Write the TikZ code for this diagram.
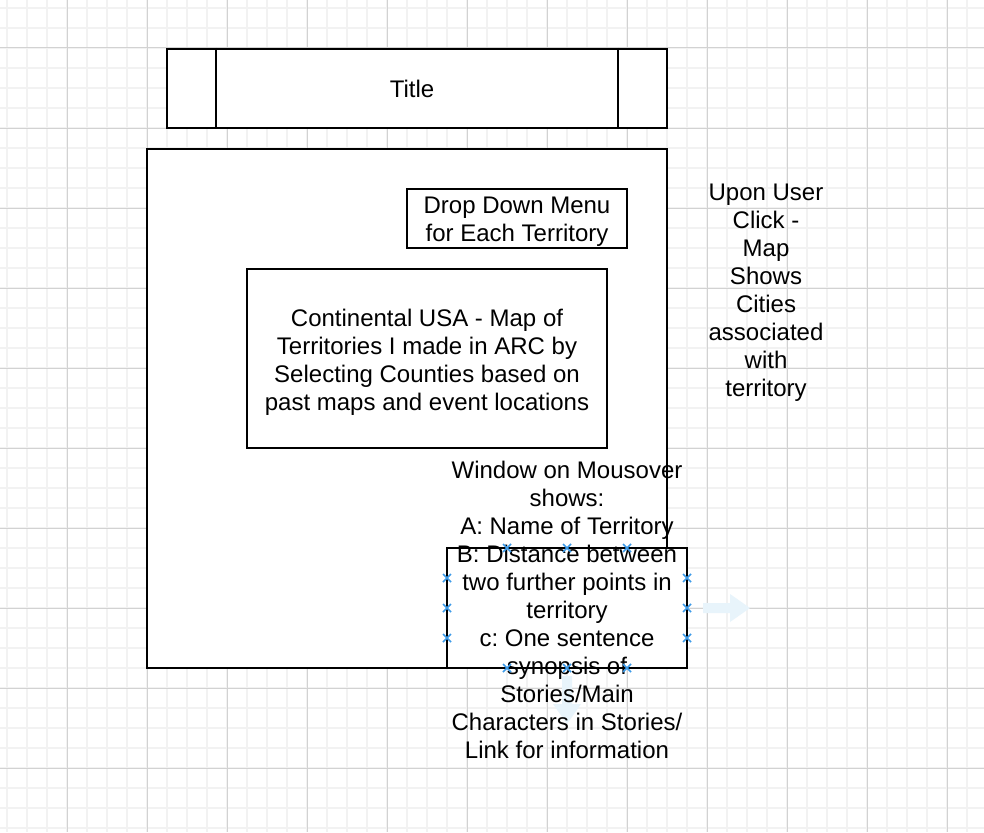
\documentclass[tikz,border=0pt]{standalone}
\usepackage{fontspec}
\setmainfont{Liberation Sans}
\frenchspacing
\definecolor{minorgrid}{HTML}{F2F2F2}
\definecolor{majorgrid}{HTML}{D2D2D2}
\definecolor{markblue}{HTML}{3D9BE9}
\definecolor{arrowblue}{HTML}{E8F4FB}
\tikzset{
  box/.style={draw=black, line width=2pt, fill=white, inner sep=0pt, align=center, font=\fontsize{24}{28}\selectfont},
  txt/.style={align=center, inner sep=0pt, font=\fontsize{24}{28}\selectfont},
  hmark/.style={draw=markblue, line width=1.7pt},
  ghost/.style={fill=arrowblue}
}
\begin{document}
\begin{tikzpicture}[x=1pt,y=-1pt]
\useasboundingbox (0,0) rectangle (984,832);
\fill[white] (0,0) rectangle (984,832);
% grid
\foreach \x in {7,27,...,987} \draw[minorgrid, line width=1.6pt] (\x,0) -- (\x,832);
\foreach \y in {8,28,...,828} \draw[minorgrid, line width=1.6pt] (0,\y) -- (984,\y);
\foreach \x in {67,147,...,947} \draw[majorgrid, line width=1pt] (\x,0) -- (\x,832);
\foreach \y in {48,128,...,768} \draw[majorgrid, line width=1pt] (0,\y) -- (984,\y);

% title bar
\node[box, minimum width=500pt, minimum height=79pt, text depth=0pt] (title) at (417,88.5) {\hspace*{-10pt}Title};
\draw[line width=2pt] ([xshift=50pt]title.north west) -- ([xshift=50pt]title.south west);
\draw[line width=2pt] ([xshift=-50pt]title.north east) -- ([xshift=-50pt]title.south east);

% main map frame
\node[box, minimum width=520pt, minimum height=519pt] (map) at (407,408.5) {};
\node[box, minimum width=220pt, minimum height=59pt] (drop) at (517,218.5) {};
\node[txt] (droptext) at (517,222) {Drop Down Menu\\for Each Territory};
\node[box, minimum width=360pt, minimum height=179pt] (usa) at (427,358.5) {};
\node[txt] (usatext) at (427,362)
  {Continental USA - Map of\\Territories I made in ARC by\\Selecting Counties based on\\past maps and event locations};

% window box
\node[box, minimum width=240pt, minimum height=120pt] (win) at (567,608) {};

% faint hover arrows
\fill[ghost] (703,603) -- (730,603) -- (730,594) -- (750,608) -- (730,622) -- (730,613) -- (703,613) -- cycle;
\fill[ghost] (562,676) -- (572,676) -- (572,704) -- (581,704) -- (567,724) -- (553,704) -- (562,704) -- cycle;

% texts
\node[txt] (wintext) at (567,610) {Window on Mousover\\shows:\\A: Name of Territory\\B: Distance between\\two further points in\\territory\\c: One sentence\\synopsis of\\Stories/Main\\Characters in Stories/\\Link for information};
\node[txt] (upon) at (766,293) {Upon User\\Click -\\Map\\Shows\\Cities\\associated\\with\\territory};

% selection marks
\foreach \px/\py in {507/548,567/548,627/548,447/578,447/608,447/638,687/578,687/608,687/638,507/668,567/668,627/668}
  \draw[hmark] (\px-4,\py-4) -- (\px+4,\py+4) (\px-4,\py+4) -- (\px+4,\py-4);
\end{tikzpicture}
\end{document}
